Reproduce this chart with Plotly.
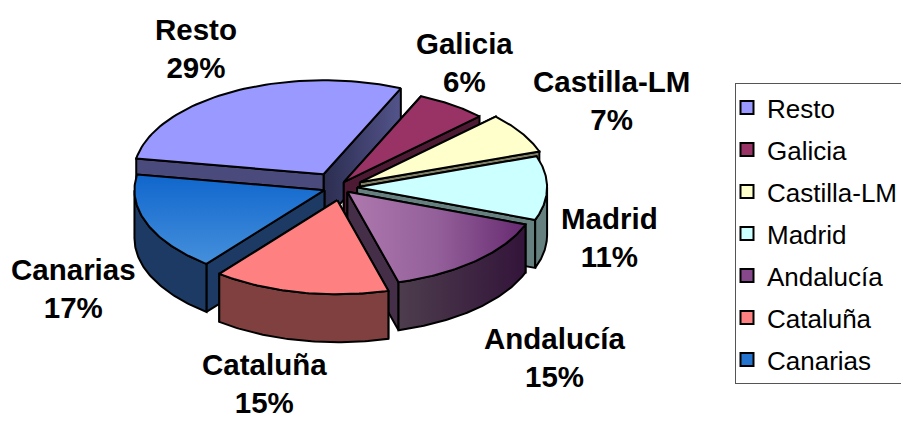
import math
import plotly.graph_objects as go

categories = ["Resto", "Galicia", "Castilla-LM", "Madrid", "Andalucía", "Cataluña", "Canarias"]
shares = [29, 6, 7, 11, 15, 15, 17]
top_colors = ["#9999FF", "#993366", "#FFFFCC", "#CCFFFF", "#86488A", "#FF8080", "#2474CF"]
wall_colors = ["#4A4A7C", "#4D1A33", "#808066", "#668080", "#452F48", "#804040", "#1C3A63"]
label_xy = {"Resto": (196, 48), "Galicia": (464, 62), "Castilla-LM": (611, 100), "Madrid": (609, 237),
            "Andalucía": (555, 357), "Cataluña": (264, 383), "Canarias": (73, 288)}

CX, CY, RX, RY, DEPTH = 338, 187, 190, 94, 48
EX, EY, SKEW = 20, 14.5, 18
START = 24 - 104.4  # Resto begins here, degrees clockwise from the back of the pie
paint_order = ["Resto", "Galicia", "Castilla-LM", "Madrid", "Canarias", "Andalucía", "Cataluña"]
# small corrections of each slice's explosion, for the original's perspective
nudge = {"Galicia": (0, 7), "Castilla-LM": (9, 3), "Andalucía": (-8, -6), "Cataluña": (-3, -1), "Canarias": (2, -2)}

# angular extents from the values
total = sum(shares)
spans, a = {}, START
for name, v in zip(categories, shares):
    spans[name] = (a, a + v / total * 360)
    a += v / total * 360


def rim(ax, ay, a0, a1, dz=0, n=60):
    pts = []
    for i in range(n + 1):
        t = math.radians(a0 + (a1 - a0) * i / n)
        pts.append((ax + RX * math.sin(t), ay - RY * math.cos(t) + dz))
    return pts


def poly(fig, pts, color, gradient=None):
    xs = [p[0] for p in pts] + [pts[0][0]]
    ys = [p[1] for p in pts] + [pts[0][1]]
    kw = dict(fillgradient=gradient) if gradient else dict(fillcolor=color)
    fig.add_trace(go.Scatter(x=xs, y=ys, mode="lines", fill="toself", showlegend=False, hoverinfo="skip",
                             line=dict(color="black", width=2), **kw))


fig = go.Figure()

# real legend entries
for name, c in zip(categories, top_colors):
    fig.add_trace(go.Scatter(x=[None], y=[None], mode="markers", name=name, legendgroup=name,
                             marker=dict(symbol="square", size=13, color=c, line=dict(color="black", width=2))))

gradients = {
    "Andalucía": dict(type="horizontal", colorscale=[[0, "#AE79AE"], [0.5, "#94609A"], [1, "#662A70"]]),
    "Canarias": dict(type="vertical", colorscale=[[0, "#4590DC"], [1, "#1066CC"]]),
}
rim_wall_gradients = {"Andalucía": dict(type="horizontal", colorscale=[[0, "#4D3D4D"], [1, "#33143A"]])}
cut_gradients = {"Resto": dict(type="horizontal", colorscale=[[0, "#2C2D50"], [1, "#53548A"]])}

for name in paint_order:
    a0, a1 = spans[name]
    mid = math.radians((a0 + a1) / 2)
    dx, dy = nudge.get(name, (0, 0))
    ax = CX + EX * math.sin(mid - math.radians(SKEW)) + dx
    ay = CY - EY * math.cos(mid) + dy
    wall = wall_colors[categories.index(name)]
    top = top_colors[categories.index(name)]
    # cut faces, the one further back first
    faces = sorted((a0, a1), key=lambda ang: rim(ax, ay, ang, ang, n=1)[0][1])
    for ang in faces:
        e = rim(ax, ay, ang, ang, n=1)[0]
        poly(fig, [(ax, ay), e, (e[0], e[1] + DEPTH), (ax, ay + DEPTH)], wall,
             cut_gradients.get(name) if ang == a1 else None)
    # outer wall on the front half
    for shift in (0, 360):
        l, h = max(a0 + shift, 90), min(a1 + shift, 270)
        if h > l:
            poly(fig, rim(ax, ay, l, h) + rim(ax, ay, h, l, DEPTH), wall, rim_wall_gradients.get(name))
    # top face
    poly(fig, [(ax, ay)] + rim(ax, ay, a0, a1), top, gradients.get(name))

for name, v in zip(categories, shares):
    x, y = label_xy[name]
    fig.add_annotation(x=x, y=y, text=f"<b>{name}<br>{v}%</b>", showarrow=False, xanchor="center", yanchor="middle",
                       font=dict(family="Liberation Sans", size=29.5, color="black"))

fig.update_layout(
    width=901, height=421, autosize=False,
    margin=dict(l=0, r=0, t=0, b=0, pad=0, autoexpand=False),
    paper_bgcolor="white", plot_bgcolor="white",
    xaxis=dict(range=[0, 901], visible=False, fixedrange=True),
    yaxis=dict(range=[421, 0], visible=False, fixedrange=True),
    legend=dict(x=735 / 901, y=1 - 83 / 421, xanchor="left", yanchor="top", bgcolor="white",
                bordercolor="#555555", borderwidth=1, tracegroupgap=5.2, traceorder="grouped",
                indentation=-9, font=dict(family="Liberation Sans", size=26, color="black")),
)
fig.write_html("out.html", config=dict(displayModeBar=False),
               post_script="document.body.style.margin='0';document.documentElement.style.overflow='hidden';")
